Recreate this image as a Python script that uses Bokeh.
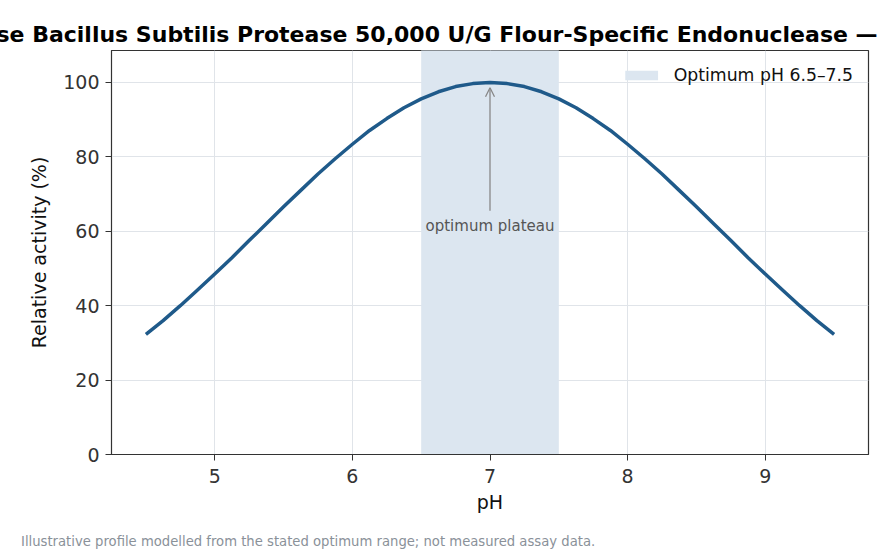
from bokeh.plotting import figure
from bokeh.models import Label, Arrow, OpenHead, Range1d, Title, Legend, LegendItem, Div
from bokeh.layouts import column
from bokeh.embed import file_html
from bokeh.resources import INLINE

# ---- data ----
ph = [4.5, 4.625, 4.75, 4.875, 5.0, 5.125, 5.25, 5.375, 5.5, 5.625, 5.75, 5.875,
      6.0, 6.125, 6.25, 6.375, 6.5, 6.625, 6.75, 6.875, 7.0, 7.125, 7.25, 7.375,
      7.5, 7.625, 7.75, 7.875, 8.0, 8.125, 8.25, 8.375, 8.5, 8.625, 8.75, 8.875,
      9.0, 9.125, 9.25, 9.375, 9.5]
activity = [32.3, 36.0, 40.0, 44.2, 48.5, 52.9, 57.5, 62.0, 66.6, 71.0, 75.4, 79.5,
            83.4, 87.1, 90.3, 93.2, 95.6, 97.5, 98.9, 99.7, 100.0, 99.7, 98.9, 97.5,
            95.6, 93.2, 90.3, 87.1, 83.4, 79.5, 75.4, 71.0, 66.6, 62.0, 57.5, 52.9,
            48.5, 44.2, 40.0, 36.0, 32.3]
opt_low, opt_high = 6.5, 7.5
x_ticks = [5, 6, 7, 8, 9]
y_ticks = [0, 20, 40, 60, 80, 100]
title_text = "se Bacillus Subtilis Protease 50,000 U/G Flour-Specific Endonuclease \u2014"
legend_text = "Optimum pH 6.5\u20137.5"
note_text = "Illustrative profile modelled from the stated optimum range; not measured assay data."
annot_text = "optimum plateau"
annot_x, annot_y = 7.0, 61.3
arrow_y0, arrow_y1 = 65.5, 98.6

FONT = "DejaVu Sans"

p = figure(width=881, height=533, output_backend="svg", toolbar_location=None,
           x_range=Range1d(4.25, 9.75), y_range=Range1d(0, 108.6),
           min_border_left=111, min_border_right=13, min_border_top=50,
           min_border_bottom=79)
p.title = None

# band
band = p.quad(left=[opt_low], right=[opt_high], bottom=[0], top=[200],
              fill_color="#dce6f0", line_color=None)
# curve
p.line(ph, activity, line_color="#1f5a8a", line_width=3.5, line_join="round")

# arrow + annotation
p.add_layout(Arrow(x_start=annot_x, y_start=arrow_y0, x_end=annot_x, y_end=arrow_y1,
                   line_color="#888888", line_width=1.3,
                   end=OpenHead(size=9, line_color="#888888", line_width=1.3)))
p.add_layout(Label(x=annot_x, y=annot_y, text=annot_text, text_align="center",
                   text_baseline="middle", text_font=FONT, text_font_size="15px",
                   text_color="#555555"))

# legend
leg = Legend(items=[LegendItem(label=legend_text, renderers=[band])],
             location="top_right", background_fill_alpha=0, border_line_alpha=0,
             label_text_font=FONT, label_text_font_size="17.3px", label_text_color="#111111",
             glyph_width=41, glyph_height=12, margin=11, padding=4, label_standoff=12)
p.add_layout(leg)

# axes
for ax in (p.xaxis[0], p.yaxis[0]):
    ax.major_label_text_font = FONT
    ax.major_label_text_font_size = "19px"
    ax.major_label_text_color = "#333333"
    ax.axis_label_text_font = FONT
    ax.axis_label_text_font_size = "19px"
    ax.axis_label_text_font_style = "normal"
    ax.axis_label_text_color = "#111111"
    ax.axis_line_color = "#333333"
    ax.major_tick_line_color = "#333333"
    ax.major_tick_out = 6
    ax.major_tick_in = 0
    ax.minor_tick_line_color = None
p.xaxis.ticker = x_ticks
p.yaxis.ticker = y_ticks
p.xaxis.axis_label = "pH"
p.yaxis.axis_label = "Relative activity (%)"
p.xaxis.major_label_standoff = 8
p.yaxis.major_label_standoff = 6
p.yaxis.axis_label_standoff = 10

p.grid.grid_line_color = "#e0e4e9"
p.grid.grid_line_width = 1
p.outline_line_color = "#333333"
p.outline_line_width = 1.2

# title
t = Title(text=title_text, align="left", offset=-115, text_font=FONT,
          text_font_size="22px", text_font_style="bold", text_color="#000000",
          standoff=8)
p.add_layout(t, "above")

# footnote
note = Div(text=note_text, width=881, height=18, margin=(0, 0, 0, 0),
           styles={"font-family": "DejaVu Sans", "font-size": "13.2px",
                   "color": "#8a9199", "line-height": "18px",
                   "padding-left": "21px", "white-space": "nowrap"})

layout = column(p, note, spacing=0, margin=(0, 0, 0, 0))
open("out.html", "w").write(file_html(layout, INLINE))
